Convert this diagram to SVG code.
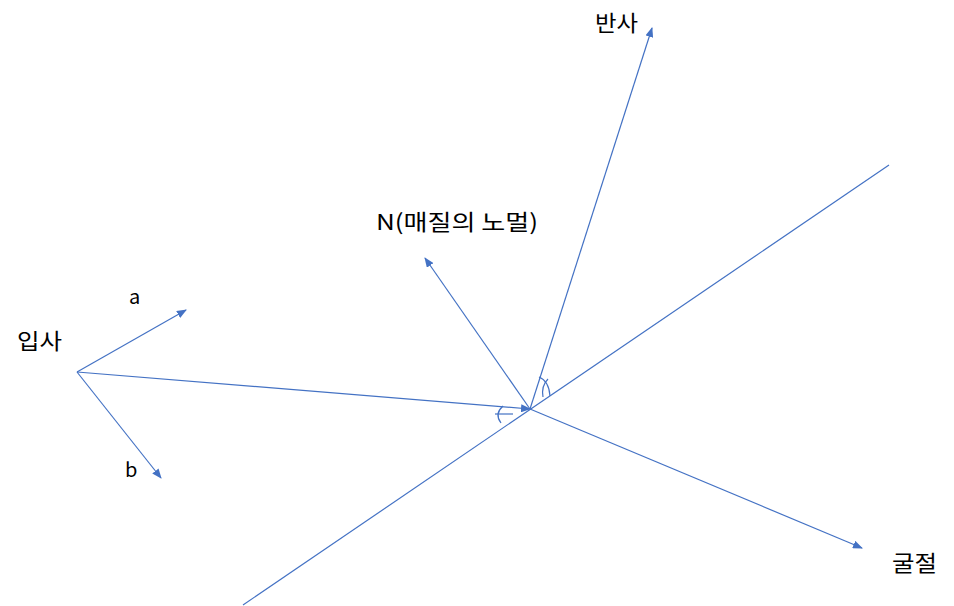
<svg xmlns="http://www.w3.org/2000/svg" width="954" height="606" viewBox="0 0 954 606">
<defs>
<style>
.ln{stroke:#4472C4;stroke-width:1.2;fill:none}
.ar{marker-end:url(#ah)}
text{font-family:"Noto Sans CJK KR","Liberation Sans",sans-serif;font-size:22px;fill:#000}
.sm{font-size:20px}
</style>
<marker id="ah" markerWidth="10" markerHeight="8" refX="9" refY="4" orient="auto" markerUnits="userSpaceOnUse">
<path d="M0,0 L10,4 L0,8 Z" fill="#4472C4"/>
</marker>
</defs>
<rect width="954" height="606" fill="#fff"/>
<g id="connectors">
<line class="ln" x1="243" y1="605" x2="889" y2="165"/>
<line class="ln ar" x1="77" y1="372" x2="530" y2="409"/>
<line class="ln ar" x1="77" y1="372" x2="186" y2="310"/>
<line class="ln ar" x1="77" y1="372" x2="161" y2="478"/>
<line class="ln ar" x1="530" y1="409" x2="425" y2="258"/>
<line class="ln ar" x1="530" y1="409" x2="652" y2="28"/>
<line class="ln ar" x1="530" y1="409" x2="862" y2="548"/>
<path class="ln" d="M539,377 Q549,381 550,396"/>
<path class="ln" d="M548,379 Q541,386 543,397"/>
<path class="ln" d="M503,406 Q494,414 501,423"/>
<line class="ln" x1="495" y1="414" x2="513" y2="414"/>
</g>
<g id="incident"><text x="17" y="349" textLength="45" lengthAdjust="spacingAndGlyphs">입사</text></g>
<g id="a"><text class="sm" x="129" y="304">a</text></g>
<g id="b"><text class="sm" x="125" y="477">b</text></g>
<g id="normal"><text x="376" y="230" textLength="162" lengthAdjust="spacingAndGlyphs">N(매질의 노멀)</text></g>
<g id="reflection"><text x="595" y="31" textLength="43" lengthAdjust="spacingAndGlyphs">반사</text></g>
<g id="refraction"><text x="892" y="571" textLength="45" lengthAdjust="spacingAndGlyphs">굴절</text></g>
</svg>
